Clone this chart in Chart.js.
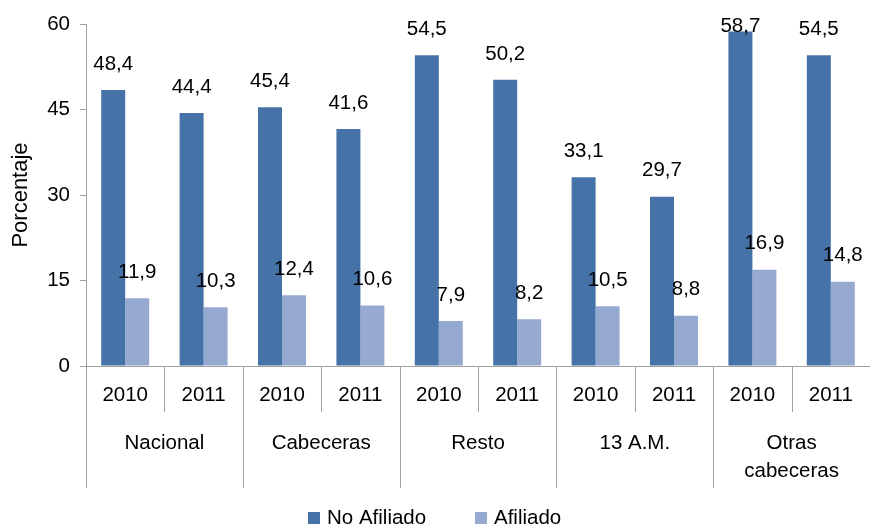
<!DOCTYPE html>
<html>
<head>
<meta charset="utf-8">
<script src="https://cdn.jsdelivr.net/npm/chart.js@4.4.1/dist/chart.umd.min.js"></script>
<style>
html,body{margin:0;padding:0;background:#fff;}
#wrap{position:relative;width:870px;height:529px;}
</style>
</head>
<body>
<div id="wrap"><canvas id="cv"></canvas></div>
<script>
// ═══ DATA ═══
var groups=[['Nacional'],['Cabeceras'],['Resto'],['13 A.M.'],['Otras','cabeceras']];
var years=['2010','2011'];
var noAfiliado=[48.4,44.4,45.4,41.6,54.5,50.2,33.1,29.7,58.7,54.5];
var afiliado=[11.9,10.3,12.4,10.6,7.9,8.2,10.5,8.8,16.9,14.8];
var yTicks=[0,15,30,45,60];
var seriesNames=['No Afiliado','Afiliado'];

var DARK='#4572a7',LIGHT='#95a9d1',AXIS='#a0a0a0',TXT='#000';
var FONT='"Liberation Sans", Arial, sans-serif';
var FS=20.5;

var labels=[];
groups.forEach(function(g){years.forEach(function(y){labels.push(y);});});

function fmt(v){return v.toFixed(1).replace('.',',');}

// value labels above bars, kept inside the plot top
var valueLabels={id:'valueLabels',afterDatasetsDraw:function(ch){
  var ctx=ch.ctx;ctx.save();
  ctx.font=FS+'px '+FONT;ctx.fillStyle=TXT;ctx.textAlign='center';ctx.textBaseline='middle';
  ch.data.datasets.forEach(function(ds,di){
    ch.getDatasetMeta(di).data.forEach(function(el,i){
      var cy=Math.max(el.y-26,26);
      ctx.fillText(fmt(ds.data[i]),el.x,cy);
    });
  });
  ctx.restore();
}};

// two-level category axis + separators + legend
var catAxis={id:'catAxis',afterDraw:function(ch){
  var ctx=ch.ctx,a=ch.chartArea,n=labels.length,w=(a.right-a.left)/n;
  ctx.save();
  ctx.strokeStyle=AXIS;ctx.lineWidth=1;
  for(var i=0;i<=n;i++){
    var x=Math.round(a.left+i*w)+0.5;
    var y2=(i%years.length===0)?488:412;
    ctx.beginPath();ctx.moveTo(x,a.bottom);ctx.lineTo(x,y2);ctx.stroke();
  }
  ctx.font=FS+'px '+FONT;ctx.fillStyle=TXT;ctx.textAlign='center';ctx.textBaseline='middle';
  labels.forEach(function(l,i){ctx.fillText(l,a.left+(i+0.5)*w,395);});
  groups.forEach(function(g,gi){
    var cx=a.left+(gi+0.5)*years.length*w;
    g.forEach(function(line,li){ctx.fillText(line,cx,443+li*28.5);});
  });
  // legend
  var cols=[DARK,LIGHT],lx=[308,475];
  ctx.textAlign='left';
  seriesNames.forEach(function(s,i){
    ctx.fillStyle=cols[i];ctx.fillRect(lx[i],512,12,12);
    ctx.fillStyle=TXT;ctx.fillText(s,lx[i]+19,518);
  });
  ctx.restore();
}};

var chart=new Chart(document.getElementById('cv'),{type:'bar',
  data:{labels:labels,datasets:[
    {label:seriesNames[0],data:noAfiliado,backgroundColor:DARK,categoryPercentage:0.612,barPercentage:1},
    {label:seriesNames[1],data:afiliado,backgroundColor:LIGHT,categoryPercentage:0.612,barPercentage:1}
  ]},
  options:{responsive:true,maintainAspectRatio:false,animation:false,
    layout:{padding:{top:24,right:0,bottom:0,left:0}},
    plugins:{legend:{display:false},tooltip:{enabled:false}},
    scales:{
      x:{grid:{display:false},ticks:{display:false},border:{display:true,color:AXIS,width:1},
         afterFit:function(s){s.height=163;}},
      y:{min:0,max:60,
         afterBuildTicks:function(s){s.ticks=yTicks.map(function(v){return{value:v};});},
         afterFit:function(s){s.width=86;},
         grid:{drawOnChartArea:false,tickLength:6,color:AXIS},
         border:{color:AXIS,width:1},
         ticks:{color:TXT,padding:10,font:{family:FONT,size:FS}},
         title:{display:true,text:'Porcentaje',color:TXT,padding:{top:8,bottom:0},font:{family:FONT,size:22}}}
    }
  },
  plugins:[valueLabels,catAxis]
});
</script>
</body>
</html>
